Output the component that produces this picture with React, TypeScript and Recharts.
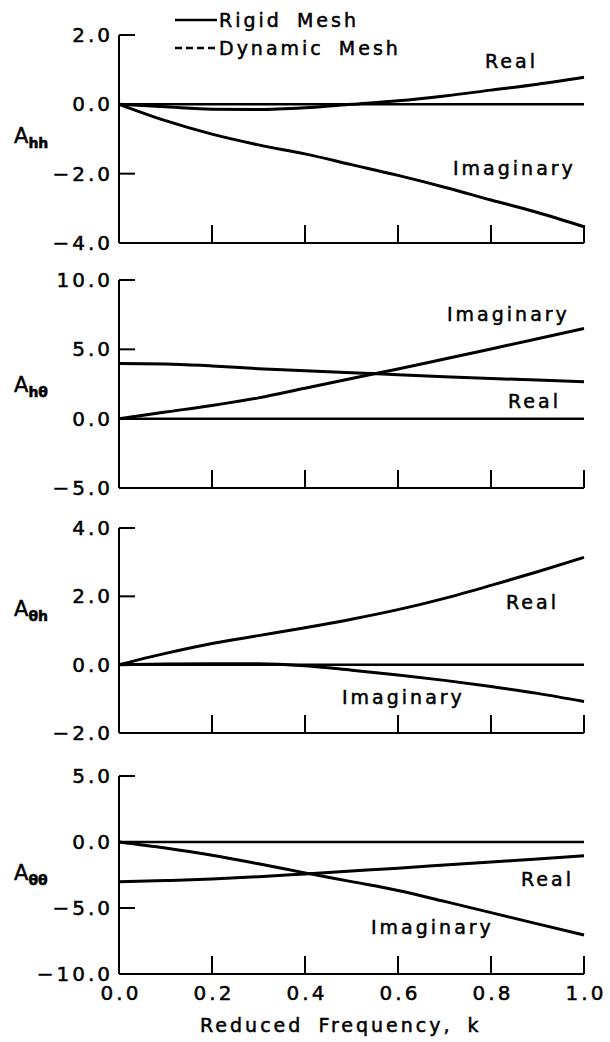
import React from "react";
import { LineChart, Line, XAxis, YAxis, ReferenceLine } from "recharts";

// reduced frequency k
const kValues = [0, 0.1, 0.2, 0.3, 0.4, 0.5, 0.6, 0.7, 0.8, 0.9, 1.0];
const xTicks = [0, 0.2, 0.4, 0.6, 0.8, 1.0];

const hhReal = [0, -0.07, -0.14, -0.15, -0.1, 0.0, 0.1, 0.24, 0.41, 0.58, 0.78];
const hhImag = [0, -0.47, -0.86, -1.17, -1.43, -1.74, -2.05, -2.39, -2.76, -3.12, -3.53];
const htReal = [3.97, 3.95, 3.8, 3.6, 3.45, 3.32, 3.17, 3.03, 2.9, 2.78, 2.66];
const htImag = [0, 0.48, 0.95, 1.5, 2.2, 2.9, 3.58, 4.3, 5.03, 5.76, 6.5];
const thReal = [0, 0.33, 0.62, 0.85, 1.08, 1.33, 1.61, 1.94, 2.32, 2.72, 3.14];
const thImag = [0, 0.02, 0.03, 0.03, -0.03, -0.16, -0.3, -0.46, -0.64, -0.84, -1.08];
const ttReal = [-3.02, -2.92, -2.8, -2.63, -2.42, -2.2, -1.98, -1.75, -1.52, -1.28, -1.05];
const ttImag = [0, -0.46, -1.0, -1.65, -2.34, -3.0, -3.67, -4.5, -5.35, -6.2, -7.05];

const hhTicks = [-4, -2, 0, 2];
const htTicks = [-5, 0, 5, 10];
const thTicks = [-2, 0, 2, 4];
const ttTicks = [-10, -5, 0, 5];

const FONT = "'DejaVu Sans', sans-serif";
const AXIS_X = 119;
const PLOT_RIGHT = 584;
const M_TOP = 22;
const X_H = 44;

function rows(real: number[], imag: number[]) {
  return kValues.map((k, i) => ({ k, real: real[i], imag: imag[i] }));
}

const fmt = (v: number) => (v < 0 ? "\u2212" : "") + Math.abs(v).toFixed(1);

const panels = [
  { sub: "hh", data: rows(hhReal, hhImag), ticks: hhTicks, top: 35, h: 208, labelY: 137,
    notes: [{ t: "Real", x: 485, y: 61 }, { t: "Imaginary", x: 453, y: 168 }] },
  { sub: "hθ", data: rows(htReal, htImag), ticks: htTicks, top: 280, h: 208, labelY: 386,
    notes: [{ t: "Imaginary", x: 447, y: 314 }, { t: "Real", x: 508, y: 401 }] },
  { sub: "θh", data: rows(thReal, thImag), ticks: thTicks, top: 528, h: 205, labelY: 610,
    notes: [{ t: "Real", x: 506, y: 602 }, { t: "Imaginary", x: 342, y: 697 }] },
  { sub: "θθ", data: rows(ttReal, ttImag), ticks: ttTicks, top: 776, h: 198, labelY: 874,
    notes: [{ t: "Real", x: 521, y: 879 }, { t: "Imaginary", x: 371, y: 927 }] },
];

const textStyle: React.CSSProperties = {
  position: "absolute",
  fontFamily: FONT,
  fontSize: 19,
  letterSpacing: 3,
  wordSpacing: 6,
  lineHeight: "22px",
  color: "#000",
  whiteSpace: "nowrap",
  WebkitTextStroke: "0.5px #000",
};

function Panel({ p, last }: { p: (typeof panels)[number]; last: boolean }) {
  const lo = p.ticks[0];
  const hi = p.ticks[p.ticks.length - 1];
  const axisY = M_TOP + p.h;
  const yTick = (props: any) => (
    <text
      x={AXIS_X - 6}
      y={props.y}
      dy={7}
      textAnchor="end"
      fontFamily={FONT}
      fontSize={20}
      letterSpacing={3}
      fill="#000"
      stroke="#000"
      strokeWidth={0.5}
    >
      {fmt(props.payload.value)}
    </text>
  );
  const xTick = (props: any) =>
    last ? (
      <text
        x={props.x + 2}
        y={axisY + 26}
        textAnchor="middle"
        fontFamily={FONT}
        fontSize={20}
        letterSpacing={3}
        fill="#000"
        stroke="#000"
        strokeWidth={0.5}
      >
        {props.payload.value.toFixed(1)}
      </text>
    ) : (
      <g />
    );
  return (
    <div style={{ position: "absolute", left: 0, top: p.top - M_TOP }}>
      <LineChart
        width={610}
        height={p.h + M_TOP + X_H}
        data={p.data}
        margin={{ top: M_TOP, right: 610 - PLOT_RIGHT, bottom: 0, left: 0 }}
      >
        <XAxis
          dataKey="k"
          type="number"
          domain={[0, 1]}
          ticks={xTicks}
          height={X_H}
          tick={xTick}
          tickSize={-18}
          tickLine={{ stroke: "#000", strokeWidth: 2 }}
          axisLine={{ stroke: "#000", strokeWidth: 2 }}
        />
        <YAxis
          type="number"
          domain={[lo, hi]}
          ticks={p.ticks}
          width={AXIS_X}
          tick={yTick}
          tickSize={-16}
          tickLine={{ stroke: "#000", strokeWidth: 2 }}
          axisLine={{ stroke: "#000", strokeWidth: 2 }}
        />
        <ReferenceLine y={0} stroke="#000" strokeWidth={2.5} />
        <Line dataKey="real" type="monotone" stroke="#000" strokeWidth={3} dot={false} isAnimationActive={false} />
        <Line dataKey="imag" type="monotone" stroke="#000" strokeWidth={3} dot={false} isAnimationActive={false} />
        <Line dataKey="real" type="monotone" stroke="#000" strokeWidth={1.5} strokeDasharray="7 4" dot={false} isAnimationActive={false} />
        <Line dataKey="imag" type="monotone" stroke="#000" strokeWidth={1.5} strokeDasharray="7 4" dot={false} isAnimationActive={false} />
      </LineChart>
      <div style={{ ...textStyle, left: 14, top: p.labelY - p.top + M_TOP - 12, fontSize: 21, letterSpacing: 0 }}>
        A<sub style={{ fontSize: 14, fontWeight: 700, verticalAlign: "-5px" }}>{p.sub}</sub>
      </div>
      {p.notes.map((n) => (
        <div key={n.t} style={{ ...textStyle, left: n.x, top: n.y - p.top + M_TOP - 11 }}>
          {n.t}
        </div>
      ))}
    </div>
  );
}

export default function App() {
  return (
    <div style={{ position: "absolute", left: 0, top: 0, width: 610, height: 1042, background: "#fff" }}>
      {panels.map((p, i) => (
        <Panel key={p.sub} p={p} last={i === panels.length - 1} />
      ))}
      <svg style={{ position: "absolute", left: 0, top: 0 }} width={230} height={60}>
        <line x1={175} x2={217} y1={20} y2={20} stroke="#000" strokeWidth={2.5} />
        <line x1={175} x2={217} y1={48} y2={48} stroke="#000" strokeWidth={2.5} strokeDasharray="7 4" />
      </svg>
      <div style={{ ...textStyle, left: 219, top: 9 }}>Rigid Mesh</div>
      <div style={{ ...textStyle, left: 219, top: 37 }}>Dynamic Mesh</div>
      <div style={{ ...textStyle, left: 200, top: 1014 }}>Reduced Frequency, k</div>
    </div>
  );
}
